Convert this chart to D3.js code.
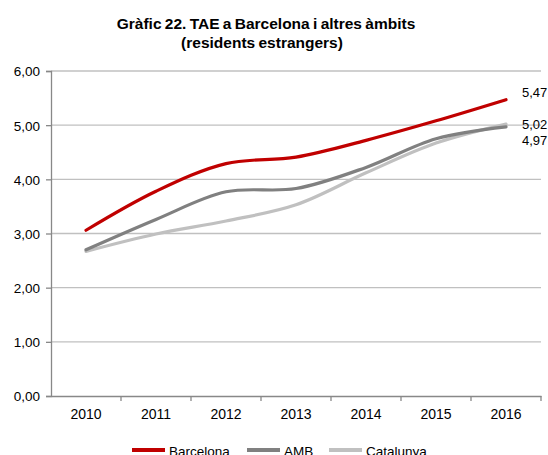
<!DOCTYPE html>
<html>
<head>
<meta charset="utf-8">
<script src="https://cdn.jsdelivr.net/npm/d3@7"></script>
<style>
body{margin:0;background:#fff;}
text{font-family:"Liberation Sans",Arial,sans-serif;fill:#000;}
</style>
</head>
<body>
<svg width="548" height="455"></svg>
<script>
var years = ['2010','2011','2012','2013','2014','2015','2016'];
var barcelona = [3.06, 3.78, 4.29, 4.41, 4.72, 5.08, 5.47];
var amb = [2.70, 3.26, 3.77, 3.83, 4.22, 4.75, 4.97];
var catalunya = [2.67, 2.99, 3.23, 3.53, 4.12, 4.67, 5.02];
var yTicks = [0,1,2,3,4,5,6];

var series = [
  {name:'Barcelona', values:barcelona, color:'#c00000'},
  {name:'AMB', values:amb, color:'#808080'},
  {name:'Catalunya', values:catalunya, color:'#c0c0c0'}
];

let svg = d3.select('svg');
let xScale = d3.scaleBand().domain(years).range([51,541]);
let yScale = d3.scaleLinear().domain([0,6]).range([396,71]);
let fmt = d=>d3.format('.2f')(d).replace('.',',');

// title
svg.append('text').attr('x',266).attr('y',29).attr('text-anchor','middle')
  .style('font-weight','bold').style('font-size','15.5px').style('word-spacing','-1px')
  .text('Gràfic 22. TAE a Barcelona i altres àmbits');
svg.append('text').attr('x',262).attr('y',48).attr('text-anchor','middle')
  .style('font-weight','bold').style('font-size','15.5px').style('word-spacing','-1px')
  .text('(residents estrangers)');

// grid
svg.append('g').selectAll('line').data(yTicks.slice(1)).enter().append('line')
  .attr('x1',51).attr('x2',541)
  .attr('y1',d=>yScale(d)).attr('y2',d=>yScale(d))
  .attr('stroke','#c0c0c0').attr('stroke-width',1.3);

// y axis
let yAxis = d3.axisLeft(yScale).tickValues(yTicks).tickSize(5).tickFormat(fmt);
let yg = svg.append('g').attr('transform','translate(51,0)').call(yAxis);
yg.select('.domain').attr('stroke','#888').attr('stroke-width',1.3);
yg.selectAll('.tick line').attr('stroke','#888').attr('stroke-width',1.3);
yg.selectAll('text').style('font-size','13.5px').attr('x',-11).attr('dy','0.36em');

// x axis
let xAxis = d3.axisBottom(xScale).tickSize(0);
let xg = svg.append('g').attr('transform','translate(0,396)').call(xAxis);
xg.select('.domain').attr('stroke','#888').attr('stroke-width',1.3);
xg.selectAll('text').style('font-size','14px').attr('y',13).attr('dy','0.71em');
xg.selectAll('.sep').data(years).enter().append('line')
  .attr('x1',d=>xScale(d)+xScale.bandwidth()).attr('x2',d=>xScale(d)+xScale.bandwidth())
  .attr('y1',0).attr('y2',5).attr('stroke','#888').attr('stroke-width',1.3);

// lines
let line = d3.line()
  .x((d,i)=>xScale(years[i])+xScale.bandwidth()/2)
  .y(d=>yScale(d))
  .curve(d3.curveCatmullRom.alpha(0.5));
svg.append('g').selectAll('path').data(series.slice().reverse()).enter().append('path')
  .attr('d',d=>line(d.values)).attr('fill','none')
  .attr('stroke',d=>d.color).attr('stroke-width',3.2).attr('stroke-linecap','round');

// end labels
let last = years.length-1;
let endX = xScale(years[last])+xScale.bandwidth()/2+16;
svg.append('text').attr('x',endX).attr('y',yScale(barcelona[last])-7).attr('dy','0.36em')
  .style('font-size','13px').text(fmt(barcelona[last]));
svg.append('text').attr('x',endX).attr('y',yScale(catalunya[last])).attr('dy','0.36em')
  .style('font-size','13px').text(fmt(catalunya[last]));
svg.append('text').attr('x',endX).attr('y',yScale(amb[last])+14).attr('dy','0.36em')
  .style('font-size','13px').text(fmt(amb[last]));

// legend
let legX = [132,247,329];
let leg = svg.append('g').selectAll('g').data(series).enter().append('g')
  .attr('transform',(d,i)=>'translate('+legX[i]+',450)');
leg.append('line').attr('x1',0).attr('x2',33).attr('y1',0).attr('y2',0)
  .attr('stroke',d=>d.color).attr('stroke-width',4);
leg.append('text').attr('x',37).attr('y',6).style('font-size','13.5px').text(d=>d.name);
</script>
</body>
</html>
